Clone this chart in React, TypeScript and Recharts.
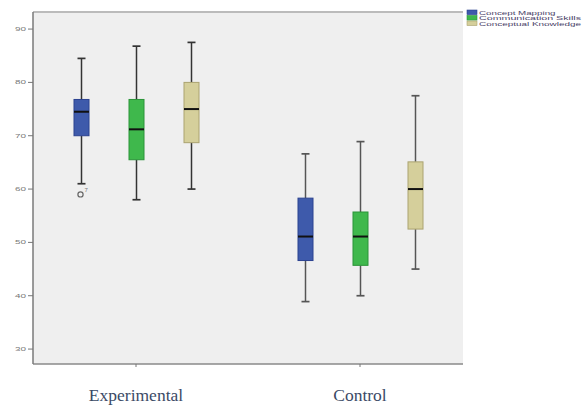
import { ComposedChart, Bar, XAxis, YAxis, CartesianGrid, ReferenceLine } from 'recharts'

const groups = ['Experimental', 'Control']
const seriesNames = ['Concept Mapping', 'Communication Skills', 'Conceptual Knowledge']
const seriesFill = ['#3E5AAB', '#3FB84C', '#D5CF9B']
const seriesEdge = ['#2B4290', '#2A9438', '#ABA371']

// [min, q1, median, q3, max] for Experimental, Control
const conceptMapping = [
  [61, 70, 74.5, 76.8, 84.5],
  [38.9, 46.6, 51.1, 58.3, 66.6],
]
const communicationSkills = [
  [58, 65.5, 71.2, 76.8, 86.8],
  [40, 45.7, 51.1, 55.7, 68.9],
]
const conceptualKnowledge = [
  [60, 68.7, 75, 80, 87.5],
  [45, 52.5, 60, 65.1, 77.5],
]
// outliers: [series, group, value, case label]
const outliers: [number, number, number, string][] = [[0, 0, 59, '7']]
const yTicks = [30, 40, 50, 60, 70, 80, 90]
const yDomain = [27.2, 93.2]

const stats = [conceptMapping, communicationSkills, conceptualKnowledge]

const data = groups.map((g, gi) => ({
  group: g,
  gi,
  s0: stats[0][gi],
  s1: stats[1][gi],
  s2: stats[2][gi],
}))

function makeBox(si: number) {
  return (props: any) => {
    const { x, y, width, height, payload } = props
    const [mn, q1, med, q3, mx] = payload['s' + si] as number[]
    const top = height >= 0 ? y : y + height
    const bot = height >= 0 ? y + height : y
    // map values onto the bar's own pixel range (max -> top, min -> bottom)
    const py = (v: number) => top + ((bot - top) * (mx - v)) / (mx - mn)
    const cx = x + width / 2
    const cap = 4
    const wc = payload.gi === 0 ? '#333' : '#555'
    const outs = outliers.filter(o => o[0] === si && o[1] === payload.gi)
    return (
      <g>
        <line x1={cx} x2={cx} y1={py(mx)} y2={py(q3)} stroke={wc} strokeWidth={1.5} />
        <line x1={cx} x2={cx} y1={py(q1)} y2={py(mn)} stroke={wc} strokeWidth={1.5} />
        <line x1={cx - cap} x2={cx + cap} y1={py(mx)} y2={py(mx)} stroke={wc} strokeWidth={1.7} />
        <line x1={cx - cap} x2={cx + cap} y1={py(mn)} y2={py(mn)} stroke={wc} strokeWidth={1.7} />
        <rect x={x} y={py(q3)} width={width} height={py(q1) - py(q3)} fill={seriesFill[si]} stroke={seriesEdge[si]} strokeWidth={1} />
        <line x1={x} x2={x + width} y1={py(med)} y2={py(med)} stroke="#111" strokeWidth={2} />
        {outs.map((o, i) => (
          <g key={i}>
            <circle cx={cx - 1} cy={py(o[2])} r={2.6} fill="none" stroke="#666" strokeWidth={1.2} />
            <text x={cx + 3} y={py(o[2]) - 2} fontSize={6} fill="#777" fontFamily="Liberation Sans, Arial">{o[3]}</text>
          </g>
        ))}
      </g>
    )
  }
}

const YTick = (props: any) => {
  const { x, y, payload } = props
  return (
    <text x={x} y={y + 2} textAnchor="end" fontSize={6} fill="#777" fontFamily="Liberation Sans, Arial"
      textLength={11} lengthAdjust="spacingAndGlyphs">
      {payload.value}
    </text>
  )
}

const XTick = (props: any) => {
  const { x, y, payload } = props
  return (
    <text x={x} y={y + 32} textAnchor="middle" fontSize={17.5} fill="#3B4A66" fontFamily="Liberation Serif, Times New Roman, serif">
      {payload.value}
    </text>
  )
}

function LegendBox() {
  return (
    <svg width={120} height={30} style={{ position: 'absolute', left: 465, top: 6 }}>
      {seriesNames.map((n, i) => (
        <g key={n}>
          <rect x={2} y={4 + i * 5.5} width={10} height={4.6} fill={seriesFill[i]} stroke={seriesEdge[i]} strokeWidth={0.6} />
          <text x={14} y={8.5 + i * 5.5} fontSize={6} fill="#4A4268" fontFamily="Liberation Sans, Arial"
            textLength={n.length * 5.1} lengthAdjust="spacingAndGlyphs">
            {n}
          </text>
        </g>
      ))}
    </svg>
  )
}

export default function App() {
  return (
    <div style={{ position: 'absolute', left: 0, top: 0, width: 585, height: 406, background: '#fff' }}>
      <ComposedChart width={585} height={406} data={data} barSize={15} barGap={40}
        margin={{ top: 12, right: 122, left: 0, bottom: 0 }}>
        <CartesianGrid fill="#EFEFEF" horizontal={false} vertical={false} />
        <XAxis dataKey="group" height={42} padding={{ left: -9, right: -9 }} tickSize={3}
          axisLine={{ stroke: '#8a8a8a', strokeWidth: 1.5 }} tickLine={{ stroke: '#777' }} tick={<XTick />} interval={0} />
        <YAxis width={33} domain={yDomain} ticks={yTicks} allowDataOverflow tickSize={5} tickMargin={2}
          axisLine={{ stroke: '#7a7a7a', strokeWidth: 1.5 }} tickLine={{ stroke: '#777' }} tick={<YTick />} />
        <YAxis yAxisId="right" orientation="right" width={0} domain={yDomain} allowDataOverflow tick={false} tickLine={false}
          axisLine={{ stroke: '#aaa', strokeWidth: 1.5 }} />
        <ReferenceLine y={yDomain[1]} stroke="#bbb" strokeWidth={2} ifOverflow="visible" />
        {seriesNames.map((n, si) => (
          <Bar key={n} name={n} dataKey={(d: any) => [d['s' + si][0], d['s' + si][4]]}
            shape={makeBox(si)} isAnimationActive={false} />
        ))}
      </ComposedChart>
      <LegendBox />
    </div>
  )
}
